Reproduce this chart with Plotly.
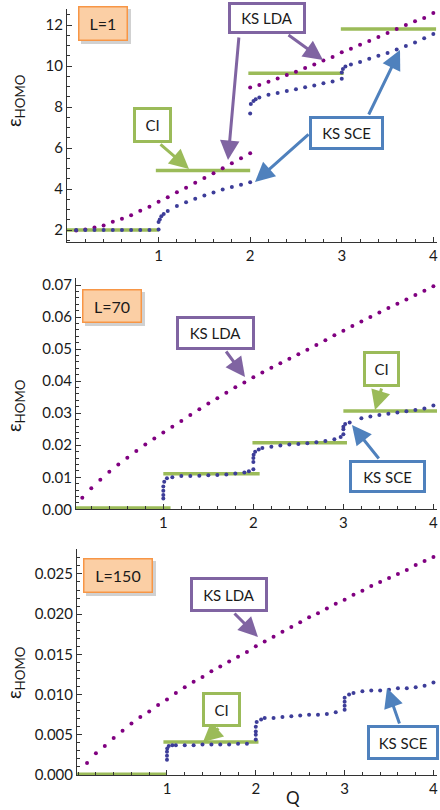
import plotly.graph_objects as go

# ---------------- data ----------------
# Panel 1 : L = 1
lda1_q = [0.1, 0.2, 0.3, 0.4, 0.5, 0.6, 0.7, 0.8, 0.9, 1.0, 1.1, 1.2, 1.3, 1.4, 1.5, 1.6, 1.7, 1.8, 1.9, 2.0,
          2.0, 2.1, 2.2, 2.3, 2.4, 2.5, 2.6, 2.7, 2.8, 2.9, 3.0, 3.1, 3.2, 3.3, 3.4, 3.5, 3.6, 3.7, 3.8, 3.9, 4.0]
lda1_e = [1.98, 2.03, 2.13, 2.23, 2.41, 2.55, 2.73, 2.94, 3.14, 3.38, 3.60, 3.84, 4.07, 4.31, 4.54, 4.77, 5.01, 5.26, 5.50, 5.75,
          8.95, 9.08, 9.23, 9.39, 9.56, 9.72, 9.90, 10.08, 10.27, 10.44, 10.67, 10.84, 11.04, 11.22, 11.41, 11.61, 11.80, 12.00, 12.18, 12.34, 12.59]

sce1_q = [0.1, 0.2, 0.3, 0.4, 0.5, 0.6, 0.7, 0.8, 0.9,
          1.0, 1.0, 1.013, 1.03, 1.056, 1.1, 1.2, 1.3, 1.4, 1.5, 1.6, 1.7, 1.8, 1.9, 2.0,
          2.0, 2.007, 2.036, 2.06, 2.1, 2.2, 2.3, 2.4, 2.5, 2.6, 2.7, 2.8, 2.9, 3.0,
          3.0, 3.013, 3.04, 3.1, 3.2, 3.3, 3.4, 3.5, 3.6, 3.7, 3.8, 3.9, 4.0]
sce1_e = [2.0, 2.0, 2.0, 2.0, 2.0, 2.0, 2.0, 2.0, 2.0,
          2.03, 2.40, 2.52, 2.68, 2.78, 2.93, 3.17, 3.36, 3.53, 3.69, 3.83, 3.98, 4.10, 4.21, 4.33,
          7.69, 8.15, 8.30, 8.38, 8.47, 8.60, 8.69, 8.78, 8.87, 8.96, 9.05, 9.16, 9.25, 9.38,
          9.68, 9.86, 9.98, 10.07, 10.20, 10.35, 10.50, 10.63, 10.80, 10.98, 11.15, 11.35, 11.56]

ci1_level = [2.0, 4.9, 9.65, 11.8]
ci1_start = [-0.02, 0.97, 1.98, 2.99]
ci1_end = [1.0, 2.0, 3.02, 4.03]

# Panel 2 : L = 70
lda2_q = [0.1, 0.2, 0.3, 0.4, 0.5, 0.6, 0.7, 0.8, 0.9, 1.0, 1.1, 1.2, 1.3, 1.4, 1.5, 1.6, 1.7, 1.8, 1.9, 2.0,
          2.1, 2.2, 2.3, 2.4, 2.5, 2.6, 2.7, 2.8, 2.9, 3.0, 3.1, 3.2, 3.3, 3.4, 3.5, 3.6, 3.7, 3.8, 3.9, 4.0]
lda2_e = [0.0036, 0.0066, 0.0092, 0.0117, 0.0140, 0.0161, 0.0182, 0.0202, 0.0221, 0.0240,
          0.0258, 0.0276, 0.0294, 0.0312, 0.0330, 0.0347, 0.0364, 0.0381, 0.0396, 0.0412,
          0.0427, 0.0442, 0.0456, 0.0470, 0.0484, 0.0498, 0.0513, 0.0528, 0.0543, 0.0557,
          0.0572, 0.0586, 0.0600, 0.0614, 0.0628, 0.0642, 0.0655, 0.0669, 0.0682, 0.0696]

sce2_q = [1.0, 1.0, 1.0, 1.0, 1.01, 1.04, 1.1, 1.2, 1.3, 1.4, 1.5, 1.6, 1.7, 1.8, 1.9, 1.95, 2.0,
          2.0, 2.0, 2.003, 2.02, 2.06, 2.1, 2.2, 2.3, 2.4, 2.5, 2.6, 2.7, 2.8, 2.9, 2.97, 3.0,
          3.0, 3.0, 3.02, 3.07, 3.2, 3.3, 3.4, 3.5, 3.6, 3.7, 3.8, 3.9, 4.0]
sce2_e = [0.0034, 0.0045, 0.0058, 0.0071, 0.0086, 0.0097, 0.0100, 0.0104, 0.0104, 0.0105, 0.0106, 0.0107,
          0.0109, 0.0112, 0.0115, 0.0119, 0.0125,
          0.0148, 0.0160, 0.0170, 0.0180, 0.0187, 0.0191, 0.0195, 0.0199, 0.0202, 0.0204, 0.0206,
          0.0209, 0.0213, 0.0219, 0.0226, 0.0234,
          0.0250, 0.0258, 0.0266, 0.0271, 0.0284, 0.0290, 0.0294, 0.0298, 0.0302, 0.0306, 0.0310, 0.0315, 0.0324]

ci2_level = [0.0004, 0.0111, 0.0208, 0.0307]
ci2_start = [0.0, 1.0, 1.99, 3.0]
ci2_end = [1.08, 2.07, 3.04, 4.04]

# Panel 3 : L = 150
lda3_q = lda2_q
lda3_e = [0.0015, 0.0027, 0.0036, 0.0046, 0.0055, 0.0064, 0.0072, 0.0079, 0.0087, 0.0094,
          0.0102, 0.0109, 0.0116, 0.0122, 0.0129, 0.0135, 0.0141, 0.0147, 0.0153, 0.0160,
          0.0166, 0.0172, 0.0178, 0.0184, 0.0190, 0.0196, 0.0201, 0.0207, 0.0213, 0.0218,
          0.0224, 0.0229, 0.0235, 0.0240, 0.0245, 0.0250, 0.0255, 0.0261, 0.0266, 0.0271]

sce3_q = [1.0, 1.0, 1.0, 1.003, 1.02, 1.06, 1.1, 1.2, 1.3, 1.4, 1.5, 1.6, 1.7, 1.8, 1.9, 2.0,
          2.0, 2.0, 2.0, 2.01, 2.06, 2.1, 2.2, 2.3, 2.4, 2.5, 2.6, 2.7, 2.8, 2.9, 3.0,
          3.0, 3.0, 3.0, 3.05, 3.1, 3.2, 3.3, 3.4, 3.5, 3.6, 3.7, 3.8, 3.9, 4.0]
sce3_e = [0.0019, 0.0024, 0.0029, 0.0033, 0.0036, 0.0037, 0.0037, 0.0037, 0.0037, 0.0038, 0.0038, 0.0038,
          0.0038, 0.0039, 0.0039, 0.0044,
          0.0050, 0.0054, 0.0060, 0.0066, 0.0069, 0.0071, 0.0071, 0.0072, 0.0073, 0.0074, 0.0075, 0.0075,
          0.0076, 0.0078, 0.0081,
          0.0086, 0.0091, 0.0096, 0.0100, 0.0102, 0.0104, 0.0105, 0.0105, 0.0106, 0.0108, 0.0108, 0.0109,
          0.0111, 0.0115]

ci3_level = [0.0001, 0.0041]
ci3_start = [-0.04, 0.96]
ci3_end = [1.0, 2.03]

x_tick_vals = [1, 2, 3, 4]
x_tick_text = ["1", "2", "3", "4"]

# ---------------- styling ----------------
W, H = 440, 810
FONT = "Lato"
C_LDA = "#800080"
C_SCE = "#3d3d99"
C_CI = "#9bbb59"
C_LDA_BOX = "#8064a2"
C_SCE_BOX = "#4f81bd"
C_ORANGE = "#f79646"
AX = "#333333"


def px(x, y):
    return x / W, 1 - y / H


fig = go.Figure()


def seg_xy(starts, ends, levels):
    xs, ys = [], []
    for s, e, l in zip(starts, ends, levels):
        xs += [s, e, None]
        ys += [l, l, None]
    return xs, ys


panels = [
    (lda1_q, lda1_e, sce1_q, sce1_e, ci1_start, ci1_end, ci1_level),
    (lda2_q, lda2_e, sce2_q, sce2_e, ci2_start, ci2_end, ci2_level),
    (lda3_q, lda3_e, sce3_q, sce3_e, ci3_start, ci3_end, ci3_level),
]
for i, (lq, le, sq, se, cs, ce, cl) in enumerate(panels):
    xa = "x" if i == 0 else f"x{i+1}"
    ya = "y" if i == 0 else f"y{i+1}"
    cx, cy = seg_xy(cs, ce, cl)
    fig.add_trace(go.Scatter(x=cx, y=cy, mode="lines", line=dict(color=C_CI, width=3.5),
                             xaxis=xa, yaxis=ya, showlegend=False, hoverinfo="skip"))
    fig.add_trace(go.Scatter(x=lq, y=le, mode="markers", marker=dict(color=C_LDA, size=4),
                             xaxis=xa, yaxis=ya, showlegend=False))
    fig.add_trace(go.Scatter(x=sq, y=se, mode="markers", marker=dict(color=C_SCE, size=4),
                             xaxis=xa, yaxis=ya, showlegend=False))

# axis geometry (pixels)
geo = [
    dict(xl=67, xr=437, yt=9, yb=242, xr_=[0, 4.04], yr=[1.42, 12.78], dy=2, ymin=0.5, fmt=None, y0=2),
    dict(xl=76, xr=437, yt=278, yb=509.3, xr_=[0.03, 4.04], yr=[0, 0.0722], dy=0.01, ymin=0.002, fmt=".2f", y0=0),
    dict(xl=77, xr=437, yt=549, yb=775, xr_=[-0.013, 4.04], yr=[0, 0.0281], dy=0.005, ymin=0.001, fmt=".3f", y0=0),
]
tickfont = dict(family=FONT, size=15, color="#1a1a1a")
layout = {}
for i, g in enumerate(geo):
    sx = "xaxis" if i == 0 else f"xaxis{i+1}"
    sy = "yaxis" if i == 0 else f"yaxis{i+1}"
    ya = "y" if i == 0 else f"y{i+1}"
    xa = "x" if i == 0 else f"x{i+1}"
    layout[sx] = dict(domain=[g["xl"] / W, g["xr"] / W], range=g["xr_"], anchor=ya, automargin=False,
                      showline=True, linecolor=AX, linewidth=1, showgrid=False, zeroline=False,
                      tickmode="array", tickvals=x_tick_vals, ticktext=x_tick_text,
                      ticks="inside", ticklen=5, tickcolor=AX, tickfont=tickfont,
                      ticklabeloverflow="allow",
                      minor=dict(tickmode="linear", tick0=0, dtick=0.2, ticks="inside", ticklen=3, tickcolor=AX,
                                 showgrid=False))
    ydict = dict(domain=[1 - g["yb"] / H, 1 - g["yt"] / H], range=g["yr"], anchor=xa, automargin=False,
                 showline=True, linecolor=AX, linewidth=1, showgrid=False, zeroline=False,
                 tickmode="linear", tick0=g["y0"], dtick=g["dy"],
                 ticks="inside", ticklen=5, tickcolor=AX, tickfont=tickfont,
                 ticklabeloverflow="allow",
                 minor=dict(tickmode="linear", tick0=0, dtick=g["ymin"], ticks="inside", ticklen=3,
                            tickcolor=AX, showgrid=False))
    if g["fmt"]:
        ydict["tickformat"] = g["fmt"]
    layout[sy] = ydict

annotations = []
shapes = []

# y titles
for cyy in [100, 405, 672]:
    x, y = px(15, cyy)
    annotations.append(dict(text="ε<sub>HOMO</sub>", x=x, y=y, xref="paper", yref="paper",
                            showarrow=False, textangle=-90, xanchor="center", yanchor="middle",
                            font=dict(family=FONT, size=19, color="#1a1a1a")))

# Q label
x, y = px(293, 797)
annotations.append(dict(text="Q", x=x, y=y, xref="paper", yref="paper", showarrow=False,
                        xanchor="center", yanchor="middle", font=dict(family=FONT, size=17, color="#1a1a1a")))

# arrows (tip, tail, colour)
arrows = [
    ((228, 160), (239, 36), C_LDA_BOX),
    ((323, 60), (287, 34), C_LDA_BOX),
    ((189, 169), (159, 143), C_CI),
    ((255, 182), (310, 133), C_SCE_BOX),
    ((400, 50), (368, 116), C_SCE_BOX),
    ((245, 377), (225, 350), C_LDA_BOX),
    ((375, 410), (382, 387), C_CI),
    ((352, 425), (380, 460), C_SCE_BOX),
    ((258, 637), (233, 612), C_LDA_BOX),
    ((203, 742), (220, 727), C_CI),
    ((387, 688), (400, 725), C_SCE_BOX),
]
for (tx, ty), (sx_, sy_), col in arrows:
    x, y = px(tx, ty)
    annotations.append(dict(text="", x=x, y=y, xref="paper", yref="paper", showarrow=True,
                            ax=sx_ - tx, ay=sy_ - ty, axref="pixel", ayref="pixel",
                            arrowhead=2, arrowsize=1.3, arrowwidth=3, arrowcolor=col,
                            standoff=0, startstandoff=0))

# label boxes (text, cx, cy, w, h, border)
boxes = [
    ("KS LDA", 267, 18, 78, 32, C_LDA_BOX),
    ("CI", 152.5, 125, 39, 36, C_CI),
    ("KS SCE", 346.5, 133, 75, 34, C_SCE_BOX),
    ("KS LDA", 215.5, 333, 79, 34, C_LDA_BOX),
    ("CI", 381.5, 369, 37, 36, C_CI),
    ("KS SCE", 387.5, 476.5, 77, 33, C_SCE_BOX),
    ("KS LDA", 229, 594.5, 78, 35, C_LDA_BOX),
    ("CI", 221.5, 709.5, 39, 35, C_CI),
    ("KS SCE", 402.5, 742.5, 72, 35, C_SCE_BOX),
]
for t, cx_, cy_, w, h, col in boxes:
    x, y = px(cx_, cy_)
    annotations.append(dict(text=t, x=x, y=y, xref="paper", yref="paper", showarrow=False,
                            xanchor="center", yanchor="middle", width=w - 6, height=h - 6,
                            bgcolor="white", bordercolor=col, borderwidth=3, borderpad=0,
                            font=dict(family=FONT, size=15, color="#1a1a1a")))

# L boxes (orange, with shadow)
lboxes = [("L=1", 103, 23.5, 50, 35), ("L=70", 112, 306, 60, 34), ("L=150", 118, 575.5, 70, 35)]
for t, cx_, cy_, w, h in lboxes:
    x0, y1 = px(cx_ - w / 2 + 3, cy_ - h / 2 + 3)
    x1, y0 = px(cx_ + w / 2 + 3, cy_ + h / 2 + 3)
    shapes.append(dict(type="rect", xref="paper", yref="paper", x0=x0, x1=x1, y0=y0, y1=y1,
                       fillcolor="rgba(0,0,0,0.18)", line=dict(width=0), layer="above"))
    x, y = px(cx_, cy_)
    annotations.append(dict(text=t, x=x, y=y, xref="paper", yref="paper", showarrow=False,
                            xanchor="center", yanchor="middle", width=w - 3, height=h - 3,
                            bgcolor="#fbcfa5", bordercolor=C_ORANGE, borderwidth=1.5, borderpad=0,
                            font=dict(family=FONT, size=16, color="#1a1a1a")))

fig.update_layout(width=W, height=H, margin=dict(l=0, r=0, t=0, b=0, autoexpand=False),
                  paper_bgcolor="white", plot_bgcolor="white",
                  annotations=annotations, shapes=shapes, **layout)

fig.write_html("out.html", config={"displayModeBar": False},
               post_script="document.body.style.margin='0';document.body.style.padding='0';"
                           "document.body.style.overflow='hidden';")
